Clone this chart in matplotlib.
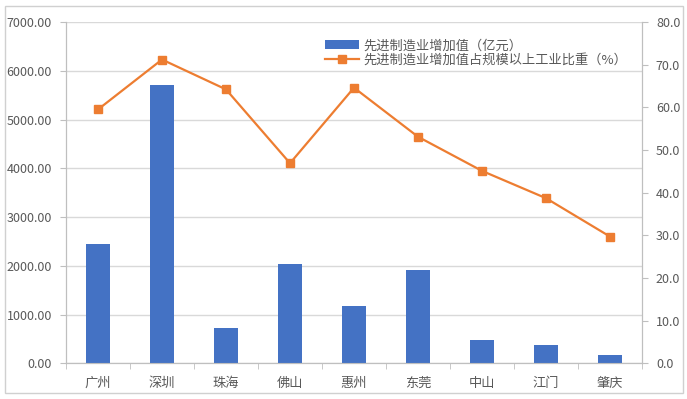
import matplotlib
matplotlib.use("Agg")
import matplotlib.pyplot as plt
from matplotlib.patches import Rectangle
from matplotlib.ticker import FormatStrFormatter, MultipleLocator, FixedLocator
import numpy as np

plt.rcParams['font.family'] = ['Noto Sans CJK SC', 'DejaVu Sans']

cities = ['广州', '深圳', '珠海', '佛山', '惠州', '东莞', '中山', '江门', '肇庆']
added_value = [2450, 5700, 720, 2030, 1185, 1905, 475, 372, 172]
share_pct = [59.5, 71.2, 64.2, 46.9, 64.6, 53.1, 45.1, 38.7, 29.7]
bar_label = '先进制造业增加值（亿元）'
line_label = '先进制造业增加值占规模以上工业比重（%）'

text_color = '#595959'
axis_color = '#BFBFBF'
grid_color = '#D9D9D9'
blue = '#4472C4'
orange = '#ED7D31'

fig = plt.figure(figsize=(6.87, 3.99), dpi=100)
fig.patches.append(Rectangle((5/687, 6/399), 678/687, 387/399, transform=fig.transFigure,
                             fill=False, edgecolor='#D0D0D0', linewidth=1.0))

ax1 = fig.add_axes([66/687, 35.7/399, 576/687, 341.3/399])
x = np.arange(len(cities))
b = ax1.bar(x, added_value, width=0.38, color=blue, zorder=3, label=bar_label)
ax1.set_xlim(-0.5, len(cities) - 0.5)
ax1.set_ylim(0, 7000)
ax1.yaxis.set_major_locator(MultipleLocator(1000))
ax1.yaxis.set_major_formatter(FormatStrFormatter('%.2f'))
ax1.grid(axis='y', color=grid_color, linewidth=1.0, zorder=0)
ax1.set_axisbelow(True)
ax1.set_xticks(x)
ax1.set_xticklabels(cities)
ax1.xaxis.set_minor_locator(FixedLocator(np.arange(-0.5, len(cities), 1.0)))
ax1.tick_params(axis='x', which='major', length=0, pad=10, labelsize=9.5, colors=text_color)
ax1.tick_params(axis='x', which='minor', length=4, color=axis_color, direction='out')
ax1.tick_params(axis='y', length=4, color=axis_color, labelsize=9, labelcolor=text_color, pad=6)
for s in ['top']:
    ax1.spines[s].set_visible(False)
for s in ['left', 'bottom', 'right']:
    ax1.spines[s].set_color(axis_color)

ax2 = ax1.twinx()
l, = ax2.plot(x, share_pct, color=orange, linewidth=1.6, marker='s', markersize=5.5,
              zorder=4, label=line_label)
ax2.set_ylim(0, 80)
ax2.yaxis.set_major_locator(MultipleLocator(10))
ax2.yaxis.set_major_formatter(FormatStrFormatter('%.1f'))
ax2.tick_params(axis='y', length=4, color=axis_color, labelsize=9, labelcolor=text_color, pad=6)
ax2.spines['top'].set_visible(False)
for s in ['left', 'bottom', 'right']:
    ax2.spines[s].set_color(axis_color)

leg = ax2.legend(handles=[b, l], loc='upper left', bbox_to_anchor=(0.44, 0.965),
                 frameon=False, fontsize=9.5, handlelength=2.6, labelspacing=0.1,
                 handletextpad=0.3, borderaxespad=0)
for t in leg.get_texts():
    t.set_color(text_color)

fig.savefig('out.png', dpi=100)
